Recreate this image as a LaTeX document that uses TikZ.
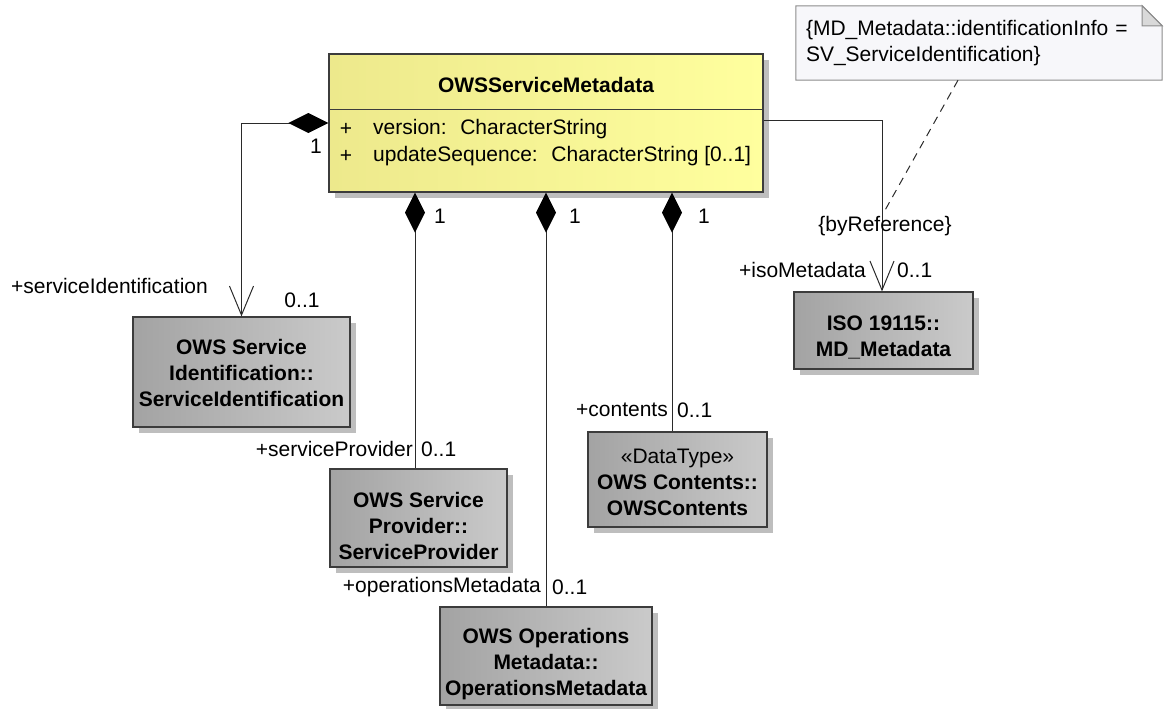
\documentclass[tikz,border=0pt]{standalone}
\usepackage{fontspec}
\setmainfont{Liberation Sans}
\usetikzlibrary{arrows.meta,shadows,backgrounds}

\definecolor{clsleft}{HTML}{EDE98C}
\definecolor{clsright}{HTML}{FFFF9E}
\definecolor{refleft}{HTML}{A3A3A3}
\definecolor{refright}{HTML}{CACACA}
\definecolor{edge}{HTML}{3C3C3C}
\definecolor{shade}{HTML}{BEBEBE}
\definecolor{notefill}{HTML}{F7F7FA}
\definecolor{noteedge}{HTML}{8C8C8C}
\definecolor{foldfill}{HTML}{D9D9D9}
\definecolor{wire}{HTML}{2A2A2A}

\begin{document}
\begin{tikzpicture}[x=1pt,y=-1pt,
  every node/.style={font=\fontsize{21}{26}\selectfont, inner sep=0pt, text=black},
  boxshadow/.style={drop shadow={shadow xshift=6pt,shadow yshift=-6pt,fill=shade,opacity=1}},
  classbox/.style={draw=edge, line width=1.2pt, left color=clsleft, right color=clsright, boxshadow},
  refbox/.style={draw=edge, line width=1.2pt, left color=refleft, right color=refright, boxshadow},
  boxtext/.style={font=\bfseries\fontsize{21}{26}\selectfont, align=center},
  assoc/.style={draw=wire, line width=1pt},
  comp/.style={assoc, {Diamond[length=40pt,width=20pt,color=black]}-},
  compnav/.style={assoc, {Diamond[length=40pt,width=20pt,color=black]}-{Straight Barb[length=29pt,width=24pt]}},
  nav/.style={assoc, -{Straight Barb[length=29pt,width=24pt]}}
]
\useasboundingbox (0,0) rectangle (1164,709);

% main class
\node[classbox, minimum width=434pt, minimum height=138pt] (main) at (546,123) {};
\draw[edge, line width=1pt] (main.west |- 0,109) -- (main.east |- 0,109);
\node[boxtext] (title) at (546,85) {OWSServiceMetadata};
\node (plusa) at (346,129) {+};
\node[anchor=west] (attra) at (373,129) {version:~ CharacterString};
\node (plusb) at (346,156) {+};
\node[anchor=west] (attrb) at (373,156) {updateSequence:~ CharacterString [0..1]};

% referenced classes
\node[refbox, minimum width=217pt, minimum height=110pt] (si) at (241.5,372) {};
\node[boxtext] (sitext) at (241.5,373) {OWS Service\\Identification::\\ServiceIdentification};

\node[refbox, minimum width=177pt, minimum height=98pt] (sp) at (418.5,518) {};
\node[boxtext] (sptext) at (418.5,526) {OWS Service\\Provider::\\ServiceProvider};

\node[refbox, minimum width=212pt, minimum height=98pt] (om) at (546,656) {};
\node[boxtext] (omtext) at (546,664) {OWS Operations\\Metadata::\\OperationsMetadata};

\node[refbox, minimum width=179pt, minimum height=95pt] (ct) at (677.5,479.5) {};
\node[boxtext] (cttext) at (677.5,482) {{\mdseries\guillemotleft DataType\guillemotright}\\OWS Contents::\\OWSContents};

\node[refbox, minimum width=179pt, minimum height=77pt] (iso) at (883.5,330.5) {};
\node[boxtext] (isotext) at (883.5,337) {ISO 19115::\\MD\_Metadata};

% associations
\draw[compnav] (main.west) -| (si.north);
\draw[comp] ([xshift=-3.5pt]sp.north |- main.south) -- ([xshift=-3.5pt]sp.north);
\draw[comp] (om.north |- main.south) -- (om.north);
\draw[comp] ([xshift=-5.5pt]ct.north |- main.south) -- ([xshift=-5.5pt]ct.north);
\draw[nav] ([yshift=3pt]main.east) -| ([xshift=-1.5pt]iso.north);

% multiplicities and role names
\node (m1) at (316,146) {1};
\node[anchor=east] (rsi) at (208,286) {+serviceIdentification};
\node (msi) at (302,300) {0..1};
\node (m2) at (440,216) {1};
\node[anchor=east] (rsp) at (413,449) {+serviceProvider};
\node[anchor=west] (msp) at (421,449) {0..1};
\node (m3) at (575,216) {1};
\node[anchor=east] (rom) at (541,587) {+operationsMetadata};
\node[anchor=west] (mom) at (552,587) {0..1};
\node (m4) at (704,216) {1};
\node[anchor=east] (rct) at (668,410) {+contents};
\node[anchor=west] (mct) at (677,410) {0..1};
\node (cbr) at (885,226) {\{byReference\}};
\node[anchor=east] (riso) at (866,270) {+isoMetadata};
\node[anchor=west] (miso) at (897,270) {0..1};

% constraint note
\node[minimum width=366pt, minimum height=74pt, text width=346pt, align=left] (note) at (979,43)
  {\{MD\_Metadata::identificationInfo =\\SV\_ServiceIdentification\}};
\begin{scope}[on background layer]
  \draw[noteedge, line width=1pt, fill=notefill]
    (note.north west) -- ([xshift=-20pt]note.north east) -- ([yshift=-20pt]note.north east)
    -- (note.south east) -- (note.south west) -- cycle;
  \draw[noteedge, line width=1pt, fill=foldfill]
    ([xshift=-20pt]note.north east) -- ([xshift=-20pt,yshift=-20pt]note.north east)
    -- ([yshift=-20pt]note.north east) -- cycle;
\end{scope}
\coordinate (anchorpt) at (884,212);
\draw[wire, line width=1pt, dash pattern=on 8pt off 6pt] ([xshift=-21pt]note.south) -- (anchorpt);
\end{tikzpicture}
\end{document}
